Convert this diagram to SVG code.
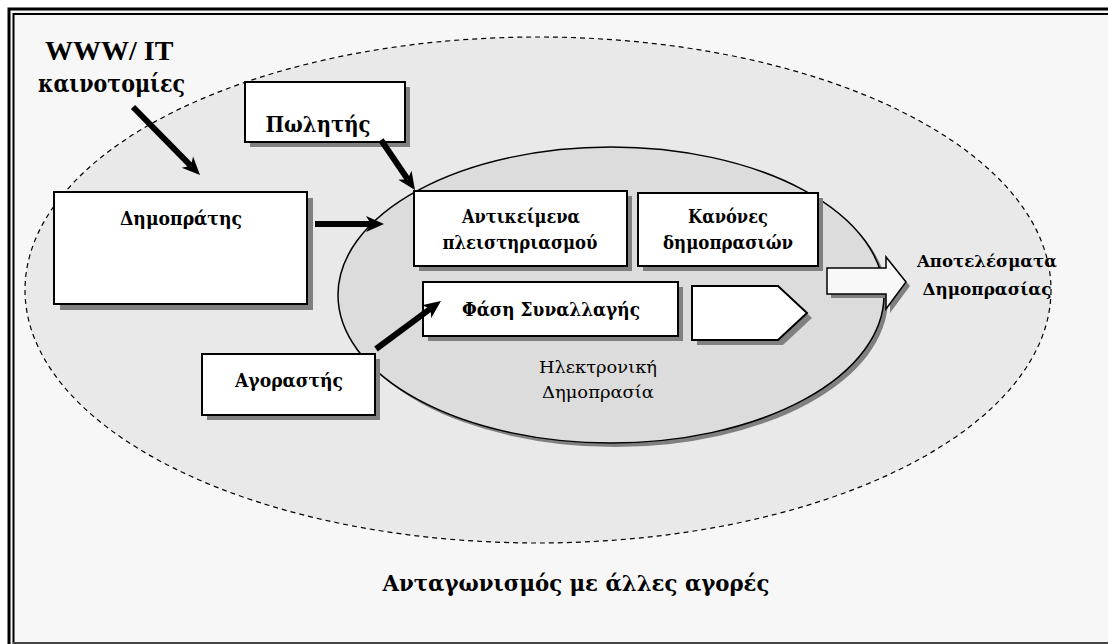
<svg xmlns="http://www.w3.org/2000/svg" width="1108" height="644" viewBox="0 0 1108 644">
  <style>
    .lbl { font-family: "DejaVu Serif", serif; font-weight: bold; fill: #000; text-anchor: middle; }
    .reg { font-family: "DejaVu Serif", serif; fill: #000; text-anchor: middle; }
    .latin { font-family: "Liberation Serif", "Times New Roman", serif; font-weight: bold; fill: #000; }
    .start { text-anchor: start; }
    .box { fill: #ffffff; stroke: #000; stroke-width: 2; }
    .shadow { fill: #808080; }
    .arrow { stroke: #000; stroke-width: 6; fill: none; marker-end: url(#head); }
  </style>
  <defs>
    <marker id="head" viewBox="0 0 18 18" refX="5" refY="9" markerWidth="18" markerHeight="18" markerUnits="userSpaceOnUse" orient="auto">
      <path d="M0,1 L18,9 L0,17 L5,9 Z" fill="#000"/>
    </marker>
  </defs>

  <!-- page background and double frame -->
  <rect x="0" y="0" width="1108" height="644" fill="#ffffff"/>
  <rect x="9" y="9" width="1110" height="645" fill="#f7f7f7" stroke="#000" stroke-width="3"/>
  <rect x="13.5" y="14" width="1110" height="629" fill="none" stroke="#000" stroke-width="2"/>
  <line x1="13" y1="643" x2="1108" y2="643" stroke="#444" stroke-width="2"/>

  <!-- market environment (dashed) -->
  <ellipse id="market" cx="538" cy="290" rx="513" ry="253" fill="#e9e9e9" stroke="#000" stroke-width="1.2" stroke-dasharray="5 4"/>

  <!-- electronic auction core -->
  <g id="auction">
    <ellipse cx="615" cy="299" rx="273" ry="148" fill="#808080"/>
    <ellipse cx="611" cy="295" rx="273" ry="148" fill="#dcdcdc" stroke="#000" stroke-width="1.5"/>
    <text class="reg" x="598" y="373" font-size="17" textLength="118" lengthAdjust="spacingAndGlyphs">Ηλεκτρονική</text>
    <text class="reg" x="598" y="398" font-size="17" textLength="112" lengthAdjust="spacingAndGlyphs">Δημοπρασία</text>
  </g>

  <g id="innovations">
    <text class="latin" x="45" y="60" font-size="28">WWW/ IT</text>
    <text class="lbl start" x="38" y="92" font-size="25" textLength="147" lengthAdjust="spacingAndGlyphs">καινοτομίες</text>
  </g>

  <g id="seller">
    <rect class="shadow" x="250" y="87" width="160" height="60"/>
    <rect class="box" x="245" y="82" width="160" height="60"/>
    <text class="lbl" x="318" y="132" font-size="22" textLength="105" lengthAdjust="spacingAndGlyphs">Πωλητής</text>
  </g>

  <g id="auctioneer">
    <rect class="shadow" x="60" y="198" width="253" height="112"/>
    <rect class="box" x="54" y="192" width="253" height="112"/>
    <text class="lbl" x="181" y="225" font-size="19" textLength="122" lengthAdjust="spacingAndGlyphs">Δημοπράτης</text>
  </g>

  <g id="items">
    <rect class="shadow" x="419" y="196" width="213" height="75"/>
    <rect class="box" x="414" y="191" width="213" height="75"/>
    <text class="lbl" x="521" y="223" font-size="18" textLength="118" lengthAdjust="spacingAndGlyphs">Αντικείμενα</text>
    <text class="lbl" x="520" y="249" font-size="18" textLength="155" lengthAdjust="spacingAndGlyphs">πλειστηριασμού</text>
  </g>

  <g id="rules">
    <rect class="shadow" x="643" y="198" width="180" height="73"/>
    <rect class="box" x="638" y="193" width="180" height="73"/>
    <text class="lbl" x="728" y="223" font-size="18" textLength="80" lengthAdjust="spacingAndGlyphs">Κανόνες</text>
    <text class="lbl" x="728" y="249" font-size="18" textLength="130" lengthAdjust="spacingAndGlyphs">δημοπρασιών</text>
  </g>

  <g id="transaction">
    <rect class="shadow" x="428" y="287" width="255" height="54"/>
    <rect class="box" x="423" y="282" width="255" height="54"/>
    <text class="lbl" x="551" y="316" font-size="19" textLength="178" lengthAdjust="spacingAndGlyphs">Φάση Συναλλαγής</text>
  </g>

  <g id="next-step">
    <polygon class="shadow" points="697,291 783,291 812,318 783,345 697,345"/>
    <polygon class="box" points="692,286 778,286 807,313 778,340 692,340"/>
  </g>

  <g id="buyer">
    <rect class="shadow" x="207" y="359" width="173" height="61"/>
    <rect class="box" x="202" y="354" width="173" height="61"/>
    <text class="lbl" x="289" y="387" font-size="18" textLength="108" lengthAdjust="spacingAndGlyphs">Αγοραστής</text>
  </g>

  <g id="results">
    <polygon class="shadow" points="831,272 890,272 890,261 910,286 890,313 890,298 831,298"/>
    <polygon points="827,268 886,268 886,257 906,282 886,309 886,294 827,294" fill="#f8f8f8" stroke="#000" stroke-width="1.5"/>
    <text class="lbl" x="987" y="267" font-size="17" textLength="140" lengthAdjust="spacingAndGlyphs">Αποτελέσματα</text>
    <text class="lbl" x="987" y="295" font-size="17" textLength="129" lengthAdjust="spacingAndGlyphs">Δημοπρασίας</text>
  </g>

  <g id="competition">
    <text class="lbl" x="576" y="591" font-size="22" textLength="387" lengthAdjust="spacingAndGlyphs">Ανταγωνισμός με άλλες αγορές</text>
  </g>

  <!-- connectors -->
  <g id="connectors">
    <line class="arrow" x1="133" y1="107" x2="190.9" y2="165.8"/>
    <line class="arrow" x1="381" y1="140" x2="407.7" y2="179.3"/>
    <line class="arrow" x1="315" y1="224" x2="371" y2="224"/>
    <line class="arrow" x1="376" y1="349" x2="430.5" y2="308.7"/>
  </g>
</svg>
